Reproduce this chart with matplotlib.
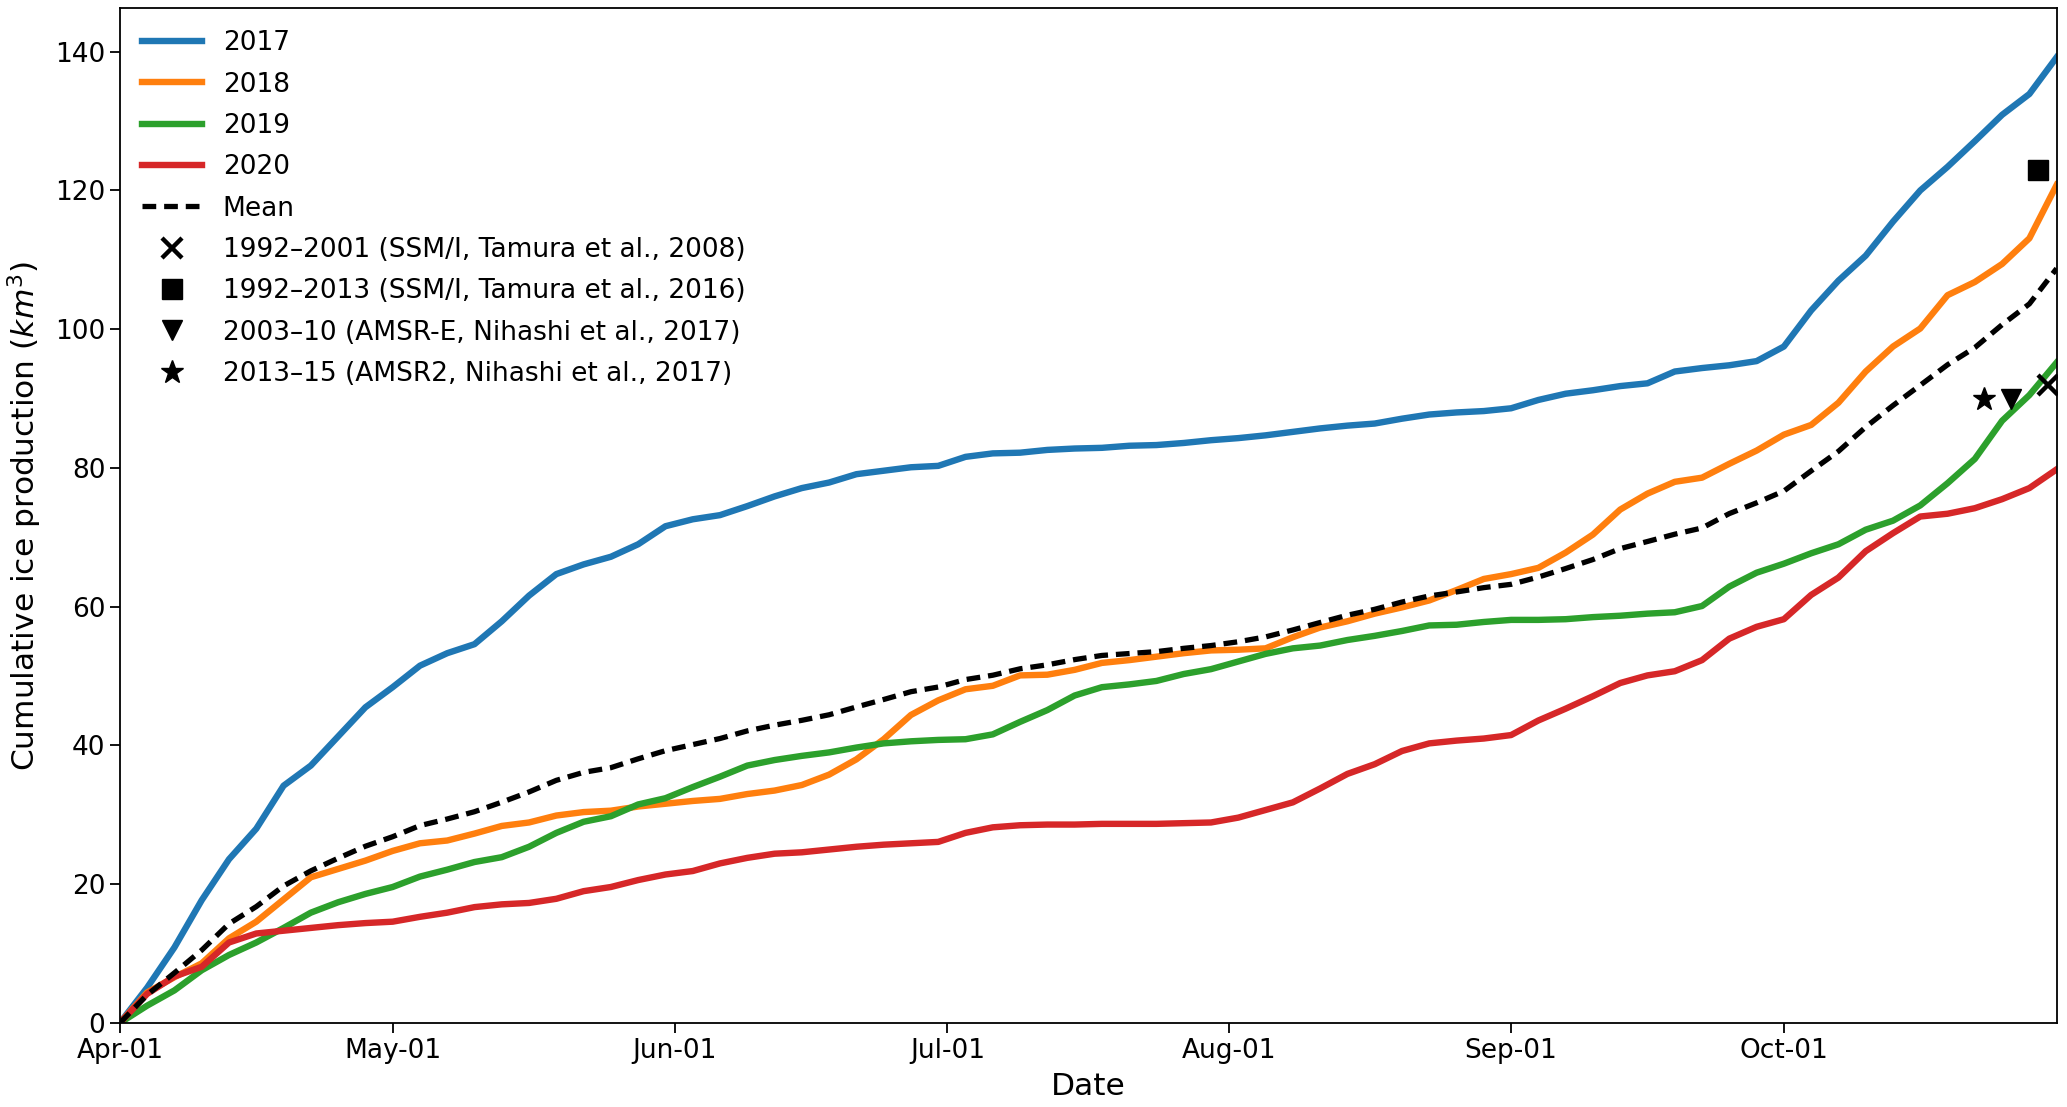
import numpy as np
import matplotlib
matplotlib.use("Agg")
import matplotlib.pyplot as plt
import matplotlib.dates as mdates

# ---- data ----
start_date = np.datetime64("2019-04-01")
day_offsets = list(range(0, 214, 3))  # days since Apr-01

y2017 = [0, 5.1, 10.9, 17.7, 23.6, 28.0, 34.2, 37.1, 41.3, 45.5, 48.4, 51.5, 53.3, 54.6,
         57.9, 61.6, 64.7, 66.1, 67.2, 69.0, 71.6, 72.6, 73.2, 74.5, 75.9, 77.1, 77.9, 79.1,
         79.6, 80.1, 80.3, 81.6, 82.1, 82.2, 82.6, 82.8, 82.9, 83.2, 83.3, 83.6, 84.0, 84.3,
         84.7, 85.2, 85.7, 86.1, 86.4, 87.1, 87.7, 88.0, 88.2, 88.6, 89.8, 90.7, 91.2, 91.8,
         92.2, 93.9, 94.4, 94.8, 95.4, 97.5, 102.7, 107.0, 110.6, 115.5, 120.0, 123.4, 127.1,
         130.9, 133.9, 139.2]
y2018 = [0, 4.4, 6.6, 8.6, 12.2, 14.6, 17.8, 21.0, 22.2, 23.4, 24.8, 25.9, 26.3, 27.3,
         28.4, 28.9, 29.9, 30.4, 30.6, 31.2, 31.6, 32.0, 32.3, 33.0, 33.5, 34.3, 35.8, 38.0,
         40.9, 44.4, 46.5, 48.1, 48.6, 50.1, 50.2, 50.9, 51.9, 52.3, 52.8, 53.3, 53.7, 53.8,
         54.0, 55.6, 57.0, 57.9, 59.0, 59.9, 60.9, 62.4, 64.0, 64.7, 65.6, 67.8, 70.4, 74.0,
         76.3, 78.0, 78.6, 80.6, 82.5, 84.8, 86.2, 89.4, 93.9, 97.5, 100.1, 104.9, 106.8,
         109.4, 113.1, 120.8]
y2019 = [0, 2.5, 4.7, 7.6, 9.8, 11.6, 13.7, 15.9, 17.4, 18.6, 19.6, 21.1, 22.1, 23.2,
         23.9, 25.4, 27.4, 29.0, 29.8, 31.5, 32.4, 34.0, 35.5, 37.1, 37.9, 38.5, 39.0, 39.7,
         40.3, 40.6, 40.8, 40.9, 41.6, 43.4, 45.1, 47.2, 48.4, 48.8, 49.3, 50.3, 51.0, 52.1,
         53.2, 54.0, 54.4, 55.2, 55.8, 56.5, 57.3, 57.4, 57.8, 58.1, 58.1, 58.2, 58.5, 58.7,
         59.0, 59.2, 60.1, 62.9, 64.9, 66.2, 67.7, 69.0, 71.1, 72.4, 74.6, 77.8, 81.3, 86.8,
         90.5, 95.2]
y2020 = [0, 4.2, 6.7, 8.1, 11.6, 12.9, 13.3, 13.7, 14.1, 14.4, 14.6, 15.3, 15.9, 16.7,
         17.1, 17.3, 17.9, 19.0, 19.6, 20.6, 21.4, 21.9, 23.0, 23.8, 24.4, 24.6, 25.0, 25.4,
         25.7, 25.9, 26.1, 27.4, 28.2, 28.5, 28.6, 28.6, 28.7, 28.7, 28.7, 28.8, 28.9, 29.6,
         30.7, 31.8, 33.8, 35.9, 37.3, 39.2, 40.3, 40.7, 41.0, 41.5, 43.6, 45.3, 47.1, 49.0,
         50.1, 50.7, 52.3, 55.4, 57.1, 58.2, 61.7, 64.2, 68.0, 70.6, 73.0, 73.4, 74.2, 75.5,
         77.1, 79.8]

series_labels = ["2017", "2018", "2019", "2020"]
series_colors = ["#1f77b4", "#ff7f0e", "#2ca02c", "#d62728"]

ref_labels = ["1992\u20132001 (SSM/I, Tamura et al., 2008)",
              "1992\u20132013 (SSM/I, Tamura et al., 2016)",
              "2003\u201310 (AMSR-E, Nihashi et al., 2017)",
              "2013\u201315 (AMSR2, Nihashi et al., 2017)"]
ref_markers = ["x", "s", "v", "*"]
ref_day_offsets = [212, 211, 208, 205]
ref_values = [92.0, 123.0, 90.0, 90.0]

# ---- figure ----
fig = plt.figure(figsize=(20.67, 11.07), dpi=100)
ax = fig.add_axes([0.058, 0.0759, 0.937, 0.9169])

dates = start_date + np.array(day_offsets).astype("timedelta64[D]")
all_series = [y2017, y2018, y2019, y2020]
for ys, lab, col in zip(all_series, series_labels, series_colors):
    ax.plot(dates, ys, color=col, lw=4.6, label=lab)

mean_vals = np.mean(np.array(all_series), axis=0)
ax.plot(dates, mean_vals, color="black", lw=3.8, ls=(0, (2.6, 1.5)), label="Mean")

for lab, mk, d, v in zip(ref_labels, ref_markers, ref_day_offsets, ref_values):
    dd = start_date + np.timedelta64(d, "D")
    if mk == "x":
        ax.plot([dd], [v], ls="none", marker=mk, color="black", ms=14, mew=3.2, label=lab)
    else:
        ax.plot([dd], [v], ls="none", marker=mk, color="black", ms=15 if mk != "*" else 17,
                label=lab)

ax.set_xlim(dates[0], dates[-1])
ax.set_ylim(0, 146.3)
ax.set_yticks(np.arange(0, 141, 20))
ax.xaxis.set_major_locator(mdates.MonthLocator(bymonthday=1))
ax.xaxis.set_major_formatter(mdates.DateFormatter("%b-%d"))

ax.tick_params(axis="both", labelsize=19, length=7, width=1.3)
for sp in ax.spines.values():
    sp.set_linewidth(1.3)

ax.set_xlabel("Date", fontsize=22.5, labelpad=6)
ax.set_ylabel("Cumulative ice production ($km^3$)", fontsize=22.5, labelpad=8)

ax.legend(loc="upper left", frameon=False, fontsize=19, handlelength=2.25,
          labelspacing=0.58, borderaxespad=0.45)

fig.savefig("out.png", dpi=100)
